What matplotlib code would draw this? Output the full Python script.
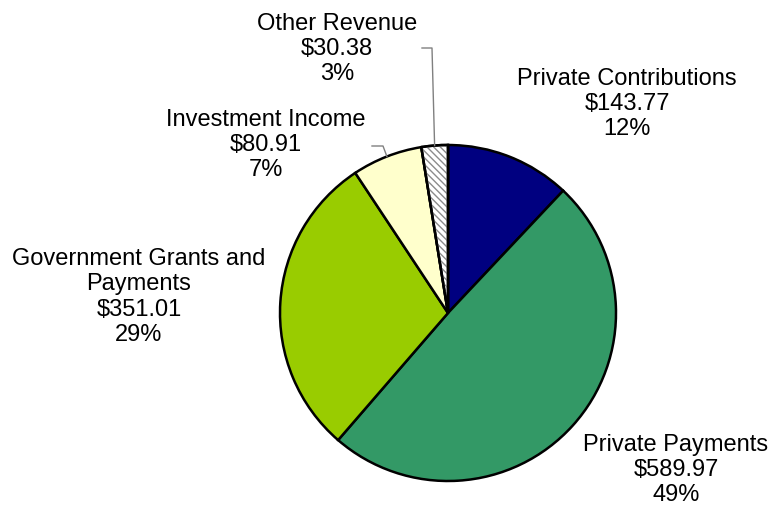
import numpy as np
import matplotlib
matplotlib.use("Agg")
import matplotlib.pyplot as plt
from matplotlib.patches import Wedge

categories = ["Private Contributions", "Private Payments",
              "Government Grants and\nPayments", "Investment Income",
              "Other Revenue"]
amounts = [143.77, 589.97, 351.01, 80.91, 30.38]
colors = ["#000080", "#339966", "#99CC00", "#FFFFCC", "#FFFFFF"]

# label block centres in pixels (x, y from top)
label_pos = [(627, 104), (676, 470), (139, 297), (266, 145), (337, 49)]

W, H = 773, 516
CX, CY, R = 448, 313, 168

plt.rcParams['font.family'] = ['Liberation Sans', 'DejaVu Sans']
plt.rcParams['hatch.linewidth'] = 1.0


def fy(y):
    return H - y


def main():
    fig = plt.figure(figsize=(W / 100, H / 100), dpi=100)
    ax = fig.add_axes([0, 0, 1, 1])

    wedges, _ = ax.pie(amounts, colors=colors, startangle=90, counterclock=False,
                       center=(CX, fy(CY)), radius=R,
                       wedgeprops=dict(edgecolor="black", linewidth=1.8))
    # pie resets the limits, so set the pixel frame afterwards
    ax.set_xlim(0, W)
    ax.set_ylim(0, H)
    ax.set_aspect("equal")
    ax.axis("off")

    # gray hatching for the "other" slice, black outline on top
    w = wedges[4]
    hatch = Wedge(w.center, w.r, w.theta1, w.theta2, facecolor="none",
                  edgecolor="#8c8c8c", linewidth=0, hatch="\\" * 5, zorder=3)
    ax.add_patch(hatch)
    outline = Wedge(w.center, w.r, w.theta1, w.theta2, facecolor="none",
                    edgecolor="black", linewidth=1.8, zorder=4)
    ax.add_patch(outline)

    total = sum(amounts)
    for name, val, (lx, ly) in zip(categories, amounts, label_pos):
        pct = round(val / total * 100)
        ax.text(lx, fy(ly), f"{name}\n${val:.2f}\n{pct}%", ha="center",
                va="center", fontsize=17, linespacing=1.2, color="black")

    # leader lines for the two thin slices
    leaders = {3: (383, 146, 372), 4: (432, 48, 422)}
    for i, (ex, ey, tx) in leaders.items():
        wd = wedges[i]
        mid = np.deg2rad((wd.theta1 + wd.theta2) / 2)
        px = CX + R * np.cos(mid)
        py = fy(CY) + R * np.sin(mid)
        ax.plot([px, ex, tx], [py, fy(ey), fy(ey)], color="#808080",
                linewidth=1.0, zorder=5)

    fig.savefig("out.png", dpi=100, facecolor="white")


if __name__ == "__main__":
    main()
